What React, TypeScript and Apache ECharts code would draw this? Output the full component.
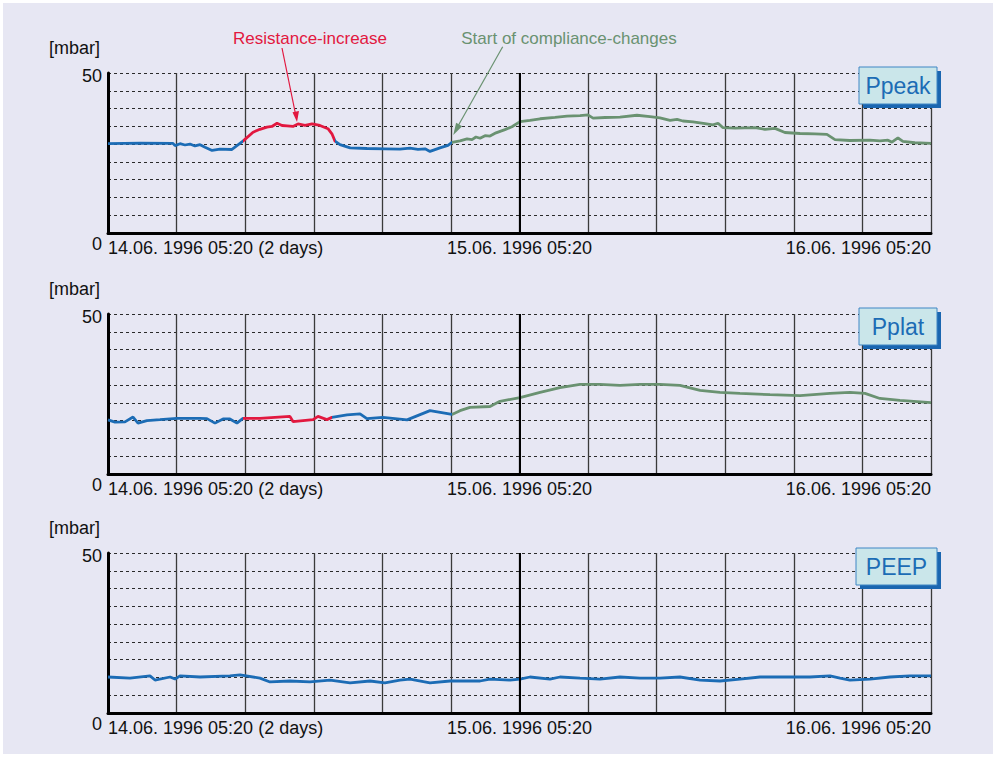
import React, { useEffect, useRef } from "react";
import * as echarts from "echarts";

// ---- data (hours since 14.06.1996 05:20, values in mbar) ----
const ppeakHours = [0, 1.87, 3.79, 3.91, 4.2, 4.49, 4.78, 5.07, 5.37, 5.66, 6.07, 6.53, 7.23, 7.87, 8.46, 8.86, 9.27, 9.56, 9.86, 10.15, 10.44, 10.79, 11.08, 11.49, 11.9, 12.36, 12.83, 13.06, 13.24, 13.53, 14.12, 15.1, 16.15, 17.03, 17.61, 18.08, 18.49, 18.78, 19.36, 19.83, 20.06, 20.53, 20.94, 21.23, 21.46, 21.7, 21.99, 22.28, 22.63, 23.15, 23.56, 24.03, 24.61, 25.2, 26.07, 26.77, 27.53, 27.99, 28.29, 28.99, 29.86, 30.85, 31.61, 32.19, 32.78, 33.19, 33.53, 34.12, 34.82, 35.28, 35.58, 35.87, 36.57, 37.73, 38.32, 38.9, 39.48, 40.36, 41.23, 41.93, 42.4, 43.27, 44.44, 45.02, 45.49, 45.72, 46.07, 46.36, 47.06, 48];
const ppeakValues = [27.9, 28.1, 28.0, 27.3, 27.9, 27.5, 27.8, 27.2, 27.6, 26.8, 25.8, 26.2, 26.1, 28.7, 31.5, 32.4, 33.1, 33.3, 34.3, 33.6, 33.5, 33.3, 34.1, 33.6, 34.1, 33.6, 32.6, 31.0, 28.7, 27.6, 26.6, 26.4, 26.3, 26.2, 26.5, 26.1, 26.3, 25.5, 26.6, 27.4, 28.3, 28.8, 29.4, 29.2, 30.0, 29.6, 30.4, 30.3, 31.3, 32.3, 33.2, 34.8, 35.2, 35.7, 36.1, 36.5, 36.7, 36.9, 35.9, 36.1, 36.2, 36.8, 36.4, 36.0, 35.2, 35.5, 35.0, 34.7, 34.2, 33.8, 34.3, 32.9, 32.8, 32.9, 32.4, 32.7, 31.4, 31.1, 31.0, 30.8, 29.2, 28.9, 29.0, 28.8, 29.0, 28.4, 29.7, 28.6, 28.2, 28.0];

const pplatHours = [0, 0.41, 0.99, 1.46, 1.75, 2.27, 3.03, 4.02, 5.37, 5.77, 6.24, 6.71, 7.11, 7.52, 7.87, 8.86, 10.61, 10.79, 11.96, 12.25, 12.77, 13.06, 13.94, 14.7, 15.1, 16.03, 17.44, 18.78, 20.06, 20.53, 21.11, 22.28, 22.86, 24.03, 25.2, 26.36, 27.53, 28.69, 29.86, 31.03, 32.19, 33.36, 34.53, 35.69, 36.86, 38.61, 40.36, 42.11, 43.27, 44.15, 45.02, 46.19, 48];
const pplatValues = [16.9, 16.2, 16.3, 17.8, 15.9, 16.7, 17.0, 17.4, 17.4, 17.3, 15.9, 17.2, 17.2, 15.9, 17.4, 17.4, 18.0, 16.4, 17.0, 18.0, 17.0, 17.7, 18.5, 18.8, 17.3, 17.7, 16.9, 19.8, 18.6, 19.8, 20.8, 21.1, 22.7, 23.9, 25.5, 27.0, 28.0, 28.0, 27.7, 28.0, 28.0, 27.7, 26.1, 25.5, 25.2, 24.8, 24.5, 25.2, 25.5, 25.2, 23.6, 23.0, 22.3];

const peepHours = [0, 1.28, 2.45, 2.74, 3.62, 3.91, 4.2, 5.37, 7.11, 7.7, 8.86, 9.45, 10.61, 11.78, 12.95, 14.12, 15.28, 16.15, 17.03, 17.61, 18.78, 19.95, 21.7, 22.28, 23.44, 24.03, 24.61, 25.78, 26.36, 27.53, 28.69, 29.86, 31.03, 32.19, 33.36, 34.53, 35.69, 36.86, 38.03, 39.78, 40.94, 42.11, 42.69, 43.27, 44.44, 45.61, 46.77, 48];
const peepValues = [11.25, 10.9, 11.6, 10.3, 11.25, 10.6, 11.6, 11.25, 11.6, 11.9, 10.9, 9.7, 10.0, 9.7, 10.3, 9.4, 10.0, 9.4, 10.3, 10.6, 9.4, 10.0, 10.0, 10.6, 10.3, 10.6, 11.25, 10.6, 11.25, 10.9, 10.6, 11.25, 10.9, 10.9, 11.25, 10.3, 10.0, 10.6, 11.25, 11.25, 11.25, 11.6, 10.9, 10.3, 10.6, 11.25, 11.6, 11.6];

// colour segments (hours)
const ppeakRedFrom = 7.87;
const ppeakRedTo = 13.24;
const pplatRedFrom = 7.87;
const pplatRedTo = 13.06;
const complianceFrom = 20.06;

const xTickHours = [0, 24, 48];
const xTickLabels = ["14.06. 1996 05:20 (2 days)", "15.06. 1996 05:20", "16.06. 1996 05:20"];
const yTickValues = [0, 50];
const panelNames = ["Ppeak", "Pplat", "PEEP"];

const BLUE = "#1c6cb5";
const RED = "#e2183f";
const GREEN = "#6a9271";
const BG = "#e7e7f3";
const FONT = "Liberation Sans, Arial, sans-serif";

export default function App() {
  const ref = useRef<HTMLDivElement>(null);
  useEffect(() => {
    document.body.style.margin = "0";
    const chart = echarts.init(ref.current!, null, { renderer: "svg" });
    const tops = [73, 314, 553];
    const H = 160;
    const grids = tops.map((t) => ({ left: 108, width: 823, top: t, height: H }));
    const xAxes: any[] = tops.map((_, i) => ({
      type: "value",
      gridIndex: i,
      min: 0,
      max: 48,
      interval: 4,
      axisLine: { show: true, onZero: false, lineStyle: { color: "#000", width: 3 } },
      axisTick: { show: false },
      splitLine: { show: true, lineStyle: { color: "#3a3a3a", width: 1.3 } },
      axisLabel: {
        show: true,
        margin: 6,
        fontSize: 18,
        fontFamily: FONT,
        color: "#111",
        alignMinLabel: "left",
        alignMaxLabel: "right",
        hideOverlap: false,
        formatter: (v: number) => {
          const k = xTickHours.indexOf(v);
          return k >= 0 ? xTickLabels[k] : "";
        },
      },
    }));
    const yAxes: any[] = [];
    tops.forEach((_, i) => {
      yAxes.push({
        type: "value",
        gridIndex: i,
        min: 0,
        max: 50,
        interval: 50,
        name: "[mbar]",
        nameLocation: "end",
        nameGap: 16,
        nameTextStyle: { fontSize: 18, fontFamily: FONT, color: "#111", align: "right", padding: [0, 8, 0, 0] },
        axisLine: { show: true, lineStyle: { color: "#000", width: 3 } },
        axisTick: { show: false },
        splitLine: { show: false },
        axisLabel: {
          margin: 6,
          fontSize: 18,
          fontFamily: FONT,
          color: "#111",
          formatter: (v: number) => (v === yTickValues[0] ? "{z|" + v + "}" : "{f|" + v + "}"),
          rich: {
            z: { fontSize: 18, fontFamily: FONT, color: "#111", padding: [22, 0, 0, 0] },
            f: { fontSize: 18, fontFamily: FONT, color: "#111", padding: [6, 0, 0, 0] },
          },
        },
      });
      yAxes.push({
        type: "value",
        gridIndex: i,
        min: 0,
        max: 9,
        interval: 1,
        show: true,
        axisLine: { show: false },
        axisTick: { show: false },
        axisLabel: { show: false },
        splitLine: { show: true, lineStyle: { color: "#2a2a2a", width: 1, type: [3, 3] } },
      });
    });

    const zip = (h: number[], v: number[]) => h.map((x, i) => [x, v[i]]);
    const midLine = {
      silent: true,
      symbol: "none",
      label: { show: false },
      lineStyle: { color: "#000", width: 2, type: "solid" },
      data: [{ xAxis: 24 }],
    };
    const mk = (i: number, data: number[][], color?: string) => ({
      type: "line",
      xAxisIndex: i,
      yAxisIndex: i * 2,
      data,
      showSymbol: false,
      symbol: "none",
      lineStyle: color ? { width: 2.8, color } : { width: 2.8 },
      itemStyle: color ? { color } : {},
      z: 3,
    });
    const markSeries = (i: number) => ({
      type: "line",
      xAxisIndex: i,
      yAxisIndex: i * 2,
      data: [],
      markLine: midLine,
      z: 2,
    });

    const boxes: any[] = panelNames.map((n, i) => {
      const y = [67, 308, 548][i];
      const x = i === 2 ? 856 : 859;
      const w = 937 - x;
      return {
        type: "group",
        z: 100,
        children: [
          { type: "rect", z: 100, shape: { x: x + 4, y: y + 4, width: w, height: 37 }, style: { fill: "#1a66b0" } },
          { type: "rect", z: 101, shape: { x, y, width: w, height: 37 }, style: { fill: "#cae6ea", stroke: "#3f86c4", lineWidth: 1 } },
          {
            type: "text",
            z: 102,
            style: {
              text: n,
              x: x + w / 2,
              y: y + 19,
              align: "center",
              verticalAlign: "middle",
              fill: BLUE,
              fontSize: 23,
              fontFamily: FONT,
              stroke: "none",
              lineWidth: 0,
            },
          },
        ],
      };
    });

    chart.setOption({
      animation: false,
      backgroundColor: "#fff",
      grid: grids,
      xAxis: xAxes,
      yAxis: yAxes,
      visualMap: [
        {
          show: false,
          type: "piecewise",
          dimension: 0,
          seriesIndex: 0,
          pieces: [
            { lt: ppeakRedFrom, color: BLUE },
            { gte: ppeakRedFrom, lt: ppeakRedTo, color: RED },
            { gte: ppeakRedTo, lt: complianceFrom, color: BLUE },
            { gte: complianceFrom, color: GREEN },
          ],
        },
        {
          show: false,
          type: "piecewise",
          dimension: 0,
          seriesIndex: 1,
          pieces: [
            { lt: pplatRedFrom, color: BLUE },
            { gte: pplatRedFrom, lt: pplatRedTo, color: RED },
            { gte: pplatRedTo, lt: complianceFrom, color: BLUE },
            { gte: complianceFrom, color: GREEN },
          ],
        },
      ],
      series: [
        mk(0, zip(ppeakHours, ppeakValues)),
        mk(1, zip(pplatHours, pplatValues)),
        mk(2, zip(peepHours, peepValues), BLUE),
        markSeries(0),
        markSeries(1),
        markSeries(2),
      ],
      graphic: [
        { type: "rect", z: -10, silent: true, shape: { x: 3, y: 3, width: 990, height: 751 }, style: { fill: BG } },
        { type: "text", z: 50, style: { text: "Resistance-increase", x: 310, y: 38, align: "center", verticalAlign: "middle", fill: RED, fontSize: 17, fontFamily: FONT } },
        { type: "text", z: 50, style: { text: "Start of compliance-changes", x: 569, y: 38, align: "center", verticalAlign: "middle", fill: GREEN, fontSize: 17, fontFamily: FONT } },
        { type: "line", z: 50, shape: { x1: 282, y1: 48, x2: 295.5, y2: 114 }, style: { stroke: RED, lineWidth: 1.2 } },
        { type: "polygon", z: 50, shape: { points: [[297, 122], [299, 111], [292.5, 112.2]] }, style: { fill: RED } },
        { type: "line", z: 50, shape: { x1: 502.7, y1: 46.7, x2: 458, y2: 126 }, style: { stroke: GREEN, lineWidth: 1.2 } },
        { type: "polygon", z: 50, shape: { points: [[453.3, 135], [462.2, 126.2], [456.1, 122.8]] }, style: { fill: GREEN } },
        ...boxes,
      ],
    });
    return () => chart.dispose();
  }, []);
  return <div ref={ref} style={{ width: 997, height: 757 }} />;
}
